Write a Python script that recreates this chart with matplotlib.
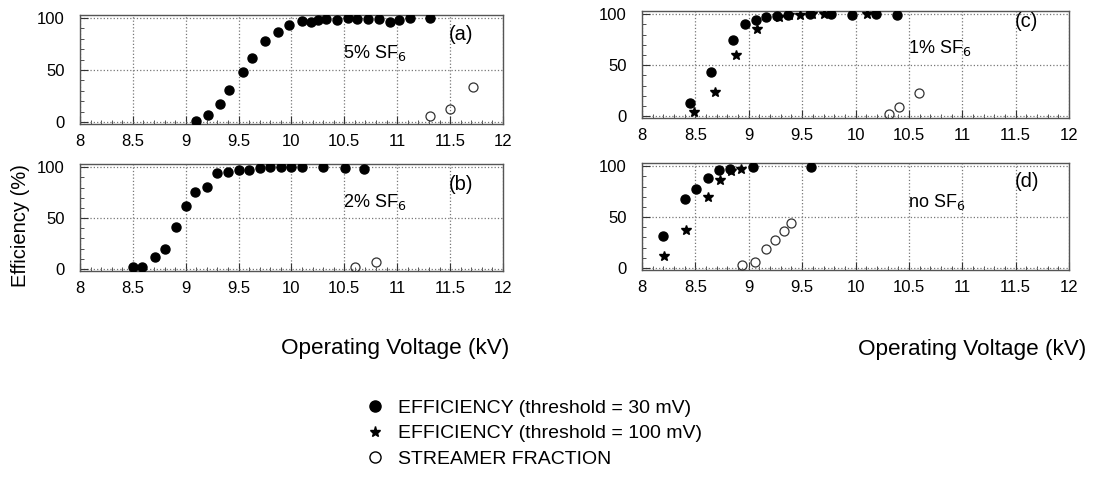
import numpy as np
import matplotlib.pyplot as plt
from matplotlib.lines import Line2D
from matplotlib.ticker import MultipleLocator

plt.rcParams['font.family'] = ['Liberation Sans', 'DejaVu Sans']

# (a) 5% SF6
a_eff30_x = [9.10, 9.21, 9.32, 9.41, 9.54, 9.63, 9.75, 9.87, 9.98, 10.10, 10.18, 10.25,
             10.33, 10.43, 10.53, 10.62, 10.72, 10.83, 10.93, 11.02, 11.12, 11.31]
a_eff30_y = [1, 6.5, 17, 31, 48, 62, 78, 87, 93, 97, 96.5, 98,
             99, 98, 99.7, 99, 99, 99, 96.5, 98, 100, 100]
a_str_x = [11.31, 11.50, 11.72]
a_str_y = [5.5, 12, 34]

# (b) 2% SF6
b_eff30_x = [8.50, 8.59, 8.71, 8.80, 8.91, 9.00, 9.09, 9.20, 9.30, 9.40, 9.50, 9.60,
             9.70, 9.80, 9.90, 10.00, 10.10, 10.30, 10.51, 10.69]
b_eff30_y = [1.6, 2, 12, 20, 41, 62, 76, 81, 94, 95, 97, 97.5,
             99.5, 100, 100, 100, 100, 100, 99, 98]
b_str_x = [10.60, 10.80]
b_str_y = [2, 7]

# (c) 1% SF6
c_eff30_x = [8.45, 8.65, 8.85, 8.96, 9.07, 9.16, 9.26, 9.37, 9.57, 9.77, 9.97, 10.19, 10.39]
c_eff30_y = [12.4, 43.6, 74.5, 90.4, 94, 97, 98, 99.4, 100, 100, 99.4, 100, 99.7]
c_eff100_x = [8.49, 8.68, 8.88, 9.08, 9.28, 9.38, 9.48, 9.59, 9.70, 10.11]
c_eff100_y = [4, 24, 60, 86, 97.7, 99, 99, 100, 100, 100]
c_str_x = [10.31, 10.41, 10.59]
c_str_y = [1.6, 9, 23]

# (d) no SF6
d_eff30_x = [8.20, 8.40, 8.51, 8.62, 8.72, 8.82, 9.04, 9.58]
d_eff30_y = [31.6, 67.7, 77.5, 88, 96.5, 97.5, 99, 99]
d_eff100_x = [8.21, 8.41, 8.62, 8.73, 8.83, 8.93]
d_eff100_y = [12, 37, 70, 86.7, 95, 97]
d_str_x = [8.94, 9.06, 9.16, 9.25, 9.33, 9.40]
d_str_y = [2.5, 5.7, 19, 27.8, 36.4, 44.3]

# tag, gas label, axes rect, tag y, gas y, series
panels = [
    ("(a)", "5% SF$_6$", [0.0726, 0.747, 0.3838, 0.2224], 0.82, 0.65,
     (a_eff30_x, a_eff30_y), None, (a_str_x, a_str_y)),
    ("(b)", "2% SF$_6$", [0.0726, 0.447, 0.3838, 0.218], 0.81, 0.645,
     (b_eff30_x, b_eff30_y), None, (b_str_x, b_str_y)),
    ("(c)", "1% SF$_6$", [0.5826, 0.759, 0.3875, 0.218], 0.90, 0.66,
     (c_eff30_x, c_eff30_y), (c_eff100_x, c_eff100_y), (c_str_x, c_str_y)),
    ("(d)", "no SF$_6$", [0.5826, 0.449, 0.3875, 0.218], 0.83, 0.64,
     (d_eff30_x, d_eff30_y), (d_eff100_x, d_eff100_y), (d_str_x, d_str_y)),
]

fig = plt.figure(figsize=(11.02, 4.9), dpi=100)

for tag, gas, rect, tag_y, gas_y, eff30, eff100, streamer in panels:
    ax = fig.add_axes(rect)
    ax.set_xlim(8, 12)
    ax.set_ylim(-2, 103)
    ax.xaxis.set_minor_locator(MultipleLocator(0.1))
    ax.yaxis.set_major_locator(MultipleLocator(50))
    ax.yaxis.set_minor_locator(MultipleLocator(10))
    ax.set_xticks(np.arange(8, 12.01, 0.5))
    ax.set_xticklabels(["8", "8.5", "9", "9.5", "10", "10.5", "11", "11.5", "12"])
    ax.tick_params(which='both', direction='in', top=False, right=False,
                   labelsize=12, colors='#333333', labelcolor='black')
    ax.tick_params(axis='y', which='major', length=6, pad=11)
    ax.tick_params(axis='x', which='major', length=6, pad=7)
    ax.tick_params(which='minor', length=3)
    ax.grid(True, which='major', linestyle=':', color='#777777', linewidth=0.9)
    for s in ax.spines.values():
        s.set_color('#555555')
        s.set_linewidth(1.0)

    ax.plot(eff30[0], eff30[1], 'o', color='black', ms=6.5, zorder=3)
    if eff100 is not None:
        ax.plot(eff100[0], eff100[1], '*', color='black', ms=7, zorder=3)
    ax.plot(streamer[0], streamer[1], 'o', mfc='none', mec='#333333', ms=6.5, mew=0.9, zorder=3)

    ax.text(0.873, tag_y, tag, transform=ax.transAxes, fontsize=14.5, ha='left', va='center')
    ax.text(0.622, gas_y, gas, transform=ax.transAxes, fontsize=13, ha='left', va='center')

fig.text(0.019, 0.539, "Efficiency (%)", rotation=90, fontsize=14.5, ha='center', va='center')
fig.text(0.359, 0.289, "Operating Voltage (kV)", fontsize=16.2, ha='center', va='center')
fig.text(0.882, 0.287, "Operating Voltage (kV)", fontsize=16.2, ha='center', va='center')

handles = [
    Line2D([], [], marker='o', color='black', linestyle='none', ms=8),
    Line2D([], [], marker='*', color='black', linestyle='none', ms=8),
    Line2D([], [], marker='o', mfc='none', mec='black', linestyle='none', ms=8),
]
labels = ["EFFICIENCY (threshold = 30 mV)",
          "EFFICIENCY (threshold = 100 mV)",
          "STREAMER FRACTION"]
fig.legend(handles, labels, loc='upper left', bbox_to_anchor=(0.333, 0.185),
           frameon=False, fontsize=14, handlelength=0.8, handletextpad=0.8,
           labelspacing=0.4, borderaxespad=0, borderpad=0)

fig.savefig("out.png", dpi=100)
